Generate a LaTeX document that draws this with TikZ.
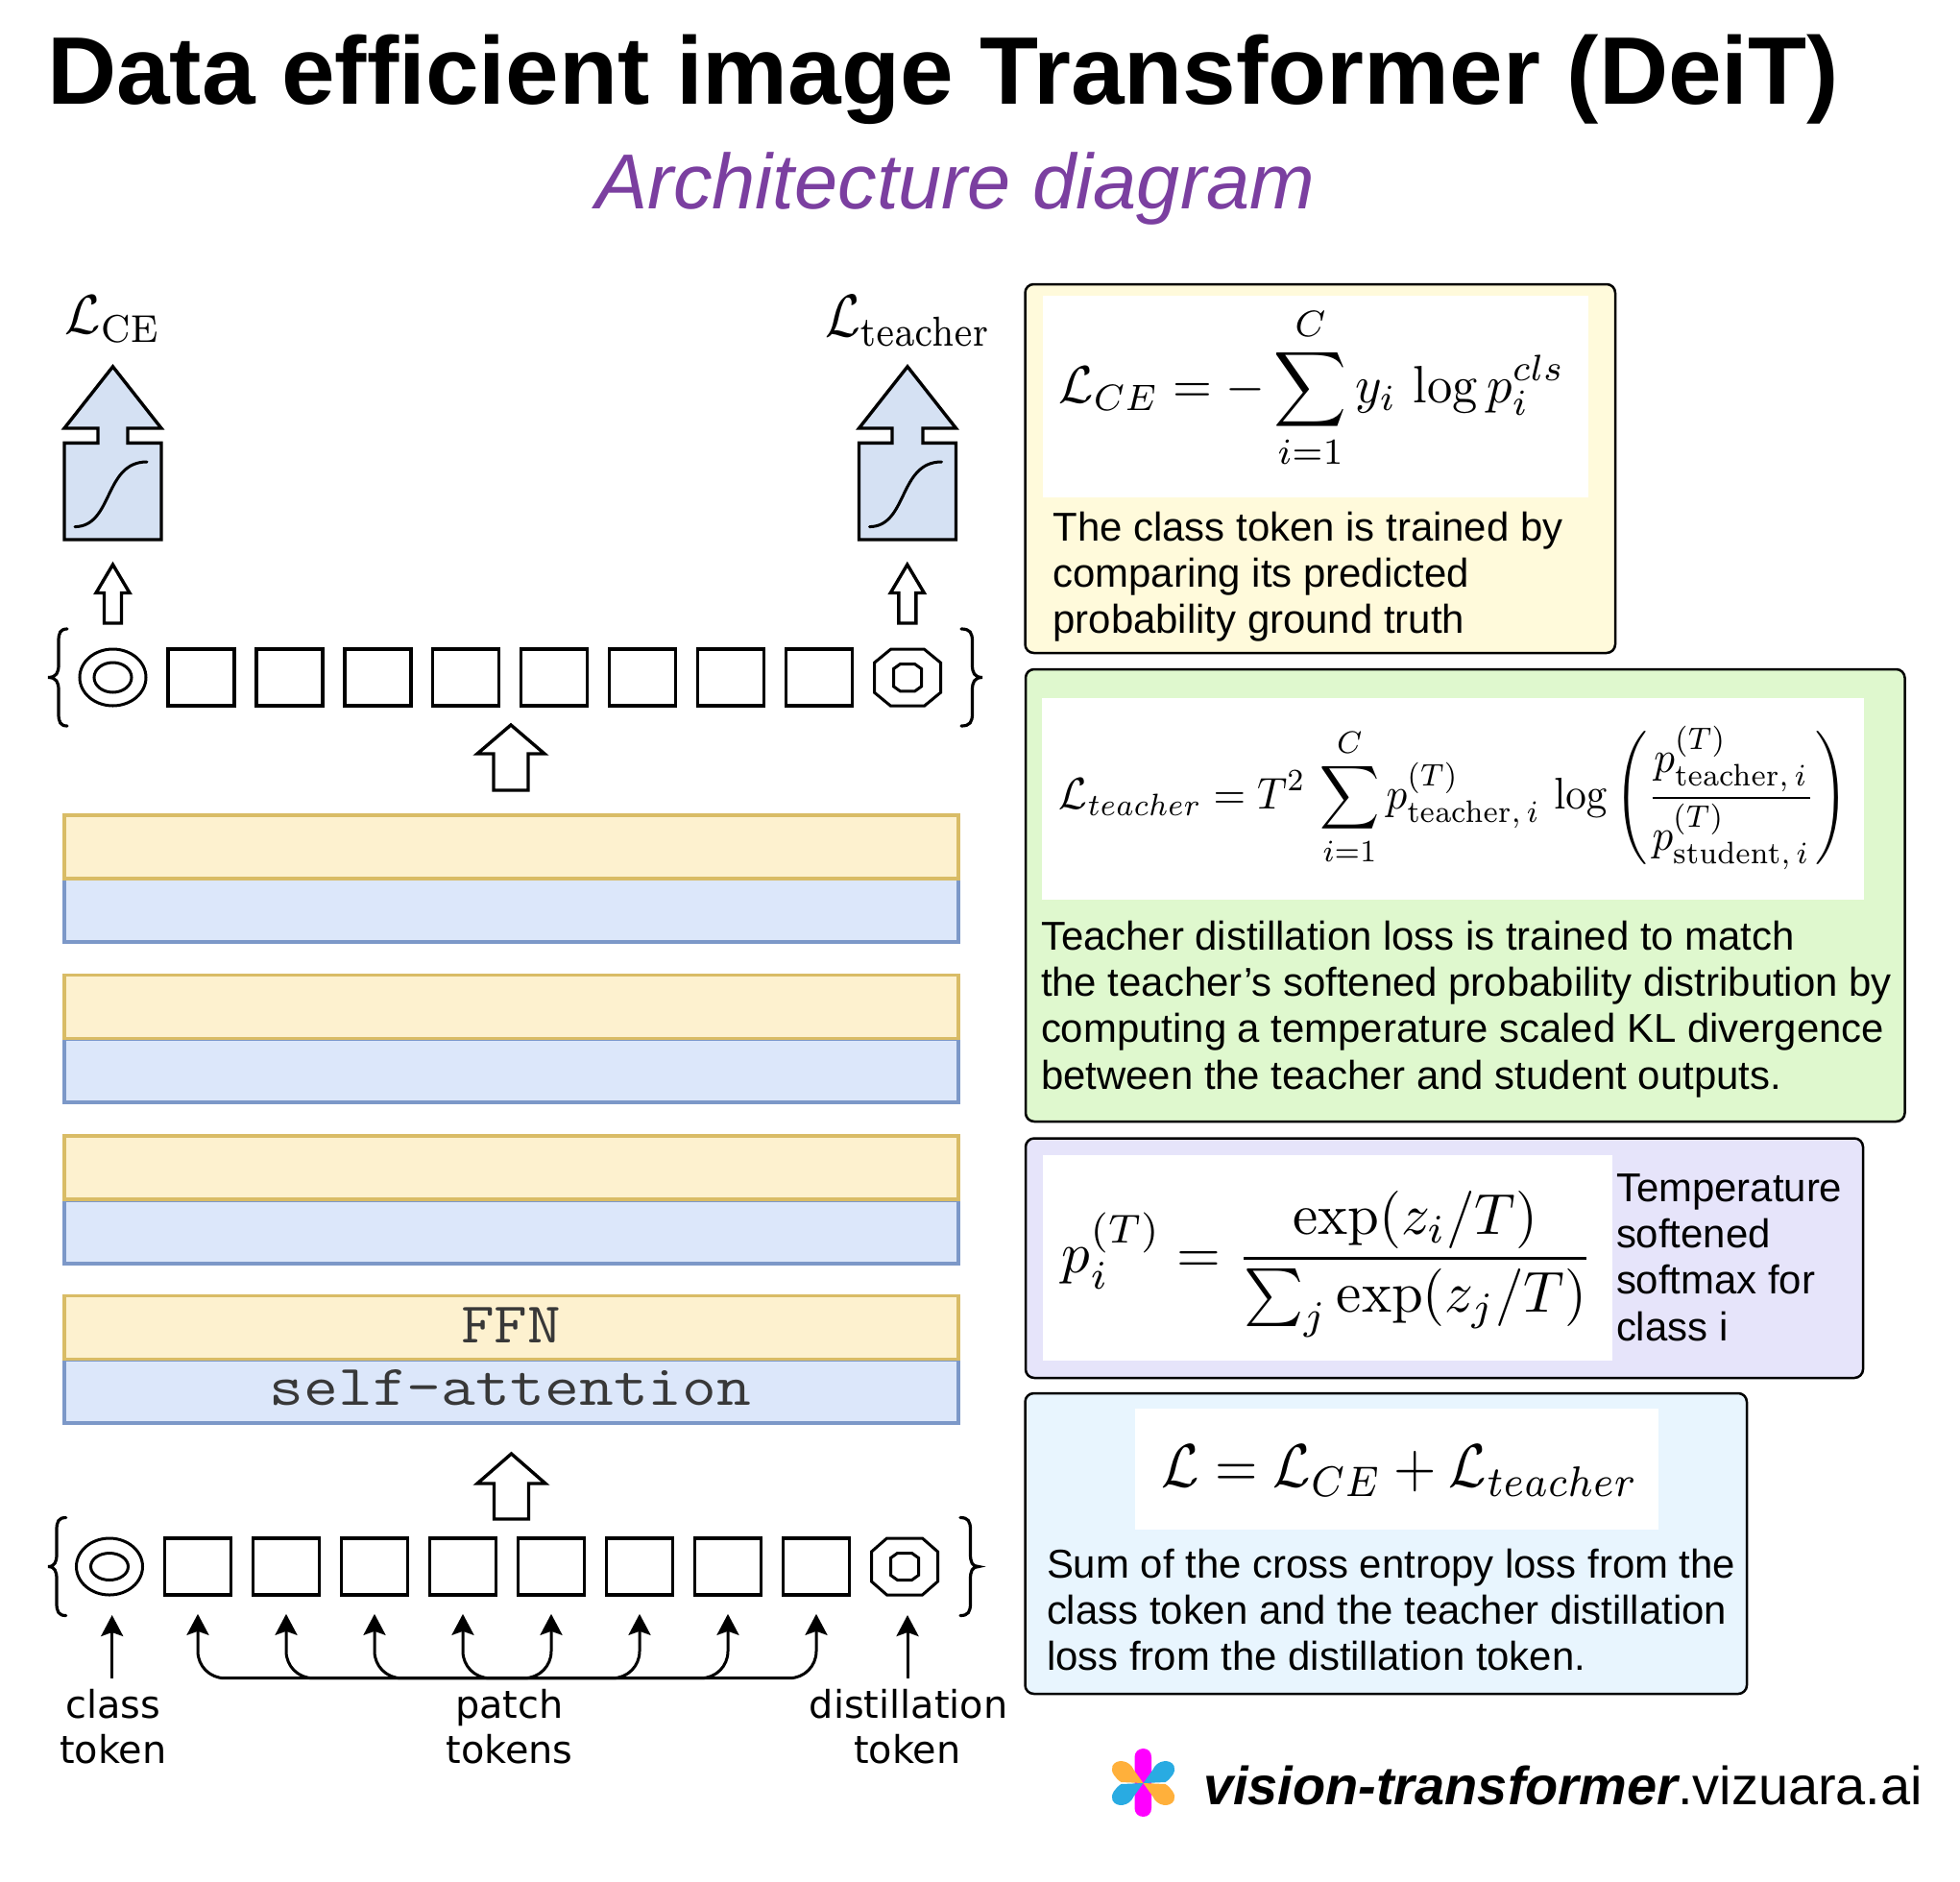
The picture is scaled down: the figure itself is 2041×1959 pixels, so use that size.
\documentclass[tikz,border=0pt]{standalone}
\usepackage{amsmath}
\usepackage{graphicx}
\usepackage[no-math]{fontspec}
\usetikzlibrary{arrows.meta,shapes.geometric}
\newfontfamily\arialf{Liberation Sans}
\newfontfamily\djf{DejaVu Sans}
\newcommand{\fsz}[2]{\fontsize{#1}{#2}\selectfont}
\definecolor{titlepurple}{HTML}{7B3FA0}
\definecolor{panelyellow}{HTML}{FFFADB}
\definecolor{panelgreen}{HTML}{DFF8CE}
\definecolor{panelpurple}{HTML}{E6E4FA}
\definecolor{panelblue}{HTML}{E8F5FE}
\definecolor{headblue}{HTML}{D5E1F3}
\definecolor{layery}{HTML}{FDF1CF}
\definecolor{layeryd}{HTML}{D9BC66}
\definecolor{layerb}{HTML}{DCE7FA}
\definecolor{layerbd}{HTML}{7C98C8}
\definecolor{logoorange}{HTML}{FFB03B}
\definecolor{logoblue}{HTML}{29ABE2}
\definecolor{logomagenta}{HTML}{FF00FF}
\tikzset{
  plain/.style={inner sep=0pt,outer sep=0pt},
  panel/.style={draw=black,line width=2.5pt,rounded corners=9pt},
  whitebox/.style={fill=white,draw=none},
  tokline/.style={draw=black,line width=3.6pt,line join=miter},
  tokbox/.style={tokline,rectangle,inner sep=0pt,outer sep=0pt,minimum width=69pt,minimum height=59pt},
  tokell/.style={tokline,line width=3pt,ellipse,inner sep=0pt,outer sep=0pt},
  blockarrow/.style={draw=black,line width=3.4pt,line join=miter,fill=white},
  headarrow/.style={blockarrow,fill=headblue},
  layeryel/.style={rectangle,draw=layeryd,fill=layery,line width=3.5pt,minimum width=931pt,minimum height=66pt,inner sep=0pt},
  layerblue/.style={rectangle,draw=layerbd,fill=layerb,line width=3.5pt,minimum width=931pt,minimum height=66pt,inner sep=0pt},
  bodytext/.style={plain,anchor=north west,align=left,text=black,font=\arialf\fsz{41.9}{48.3}},
  toktext/.style={plain,anchor=base,font=\djf\fsz{39.8}{47}},
  thinarrow/.style={draw=black,line width=3pt,-{Stealth[length=22pt,width=23pt,inset=4pt]}},
  patcharrow/.style={thinarrow,rounded corners=28pt,shorten >=20pt},
  bracepath/.style={draw=black,line width=3.2pt,line cap=round}
}
% block arrow: x, apex y, head base y, head half width, stem half width, bottom y
\newcommand{\blockup}[6]{\draw[blockarrow] (#1,#2) -- ({#1+#4},#3) -- ({#1+#5},#3) -- ({#1+#5},#6) -- ({#1-#5},#6) -- ({#1-#5},#3) -- ({#1-#4},#3) -- cycle;}
% classifier head arrow with sigmoid
\newcommand{\classhead}[2]{%
  \draw[headarrow] (#1,381.8) -- ({#1+50.5},446) -- ({#1+#2},446) -- ({#1+#2},461.4) -- ({#1+50.5},461.4) -- ({#1+50.5},562) -- ({#1-50.5},562) -- ({#1-50.5},461.4) -- ({#1-#2},461.4) -- ({#1-#2},446) -- ({#1-50.5},446) -- cycle;
  \draw[draw=black,line width=3pt,line cap=round] ({#1-39.5},548.6) .. controls ({#1+0.5},548) and ({#1-9.5},481) .. ({#1+35.5},481);}
% octagon: cx,cy,halfw,halfh,insetx,insety
\newcommand{\octo}[6]{\draw[tokline,line width=3pt] ({#1-#3+#5},{#2-#4}) -- ({#1+#3-#5},{#2-#4}) -- ({#1+#3},{#2-#4+#6}) -- ({#1+#3},{#2+#4-#6}) -- ({#1+#3-#5},{#2+#4}) -- ({#1-#3+#5},{#2+#4}) -- ({#1-#3},{#2+#4-#6}) -- ({#1-#3},{#2-#4+#6}) -- cycle;}
% brace: endx, vertx, tipx, cy, halfh
\newcommand{\brc}[5]{\draw[bracepath] (#1,{#4-#5}) .. controls ({#2+(#1-#2)*0.2},{#4-#5}) and (#2,{#4-#5+4}) .. (#2,{#4-#5+13}) -- (#2,{#4-13}) .. controls (#2,{#4-5}) and ({#2+(#3-#2)*0.2},#4) .. (#3,#4) .. controls ({#2+(#3-#2)*0.2},#4) and (#2,{#4+5}) .. (#2,{#4+13}) -- (#2,{#4+#5-13}) .. controls (#2,{#4+#5-4}) and ({#2+(#1-#2)*0.2},{#4+#5}) .. (#1,{#4+#5});}
\begin{document}
\begin{tikzpicture}[x=1pt,y=-1pt]
\useasboundingbox (0,0) rectangle (2041,1959);
\fill[white] (0,0) rectangle (2041,1959);

% Titles
\node[plain,anchor=base west] (title) at (49,108) {\resizebox{1866pt}{!}{\arialf\bfseries\fsz{100}{110}Data efficient image Transformer (DeiT)}};
\node[plain,anchor=base west,text=titlepurple] (subtitle) at (620,217.5) {\resizebox{749pt}{!}{\arialf\itshape\fsz{72}{80}Architecture diagram}};

% Layer stack
\node[layerblue] (b1) at (532.5,948.2) {};
\node[layeryel] (y1) at (532.5,882) {};
\node[layerblue] (b2) at (532.5,1114.8) {};
\node[layeryel] (y2) at (532.5,1048.4) {};
\node[layerblue] (b3) at (532.5,1282.8) {};
\node[layeryel] (y3) at (532.5,1215.8) {};
\node[layerblue] (b4) at (532.5,1448.8) {};
\node[layeryel] (y4) at (532.5,1382.5) {};
\node[plain,anchor=base,text=black!78] (ffn) at (532,1398) {\scalebox{1.12}[1]{\ttfamily\fsz{60}{60}FFN}};
\node[plain,anchor=base,text=black!78] (sa) at (531.5,1463) {\scalebox{1.16}[1]{\ttfamily\fsz{60}{60}self-attention}};

% Top token row
\node[tokell,minimum width=69pt,minimum height=59pt] (ct) at (117.5,705.5) {};
\node[tokell,minimum width=39pt,minimum height=31pt] (cti) at (117.5,705.5) {};
\foreach \i/\cx in {1/209.6,2/301.3,3/393.3,4/485,5/577,6/669,7/761,8/853}{
  \node[tokbox] (t\i) at (\cx,705.7) {};
}
\octo{945}{705.7}{34.5}{29.5}{17}{14}
\octo{945}{705.7}{14.5}{14.2}{7}{5}
\brc{70}{61}{50}{705.5}{50.5}
\brc{1001}{1012.5}{1023}{705.5}{50.5}

% Bottom token row
\node[tokell,minimum width=69pt,minimum height=59pt] (cb) at (114,1631.5) {};
\node[tokell,minimum width=39pt,minimum height=28pt] (cbi) at (114,1631.5) {};
\foreach \i/\cx in {1/206,2/298,3/390,4/482,5/574,6/666,7/758,8/850}{
  \node[tokbox] (p\i) at (\cx,1631.3) {};
}
\octo{942}{1631.5}{34.5}{29.5}{16}{14}
\octo{942}{1631.5}{14.5}{14}{7}{5}
\brc{68.7}{59}{50}{1631.5}{51}
\brc{1000}{1010.5}{1019}{1631.5}{51}

% Block arrows
\blockup{532}{755}{785}{35}{18}{823}
\blockup{532.5}{1514}{1545}{35.5}{18}{1582}
\blockup{117.5}{588}{617.5}{17.5}{9}{649}
\blockup{944.8}{588}{617.5}{17.5}{9}{649}

% Classifier heads
\classhead{117.5}{15.5}
\classhead{945}{16}
\node[plain] (lce) at (117.5,332.5) {\resizebox*{100pt}{48pt}{$\mathcal{L}_{\mathrm{CE}}$}};
\node[plain] (lte) at (945.5,334) {\resizebox*{173pt}{52pt}{$\mathcal{L}_{\mathrm{teacher}}$}};

% Input arrows
\coordinate (clsfoot) at (116.7,1747.7);
\coordinate (clstip) at (116.7,1682);
\coordinate (disfoot) at (945,1747.7);
\coordinate (distip) at (945,1682);
\coordinate (pm) at (531.5,1747.7);
\draw[thinarrow] (clsfoot) -- (clstip);
\draw[thinarrow] (disfoot) -- (distip);
\foreach \i in {1,...,8}{
  \draw[patcharrow] (pm) -| (p\i.south);
}
\node[toktext] (ctk1) at (118,1789) {class};
\node[toktext] (ctk2) at (118,1836) {token};
\node[toktext] (ptk1) at (530.5,1789) {patch};
\node[toktext] (ptk2) at (530.5,1836) {tokens};
\node[toktext] (dtk1) at (946,1789) {distillation};
\node[toktext] (dtk2) at (945,1836) {token};

% Yellow panel
\draw[panel,fill=panelyellow] (1067.5,296) rectangle (1682,680);
\fill[whitebox] (1085.7,308) rectangle (1654,517.7);
\node[plain] (fy) at (1366,404) {\resizebox*{527pt}{170pt}{$\displaystyle \mathcal{L}_{CE} = -\sum_{i=1}^{C} y_i\,\log p_i^{cls}$}};
\node[bodytext] (ty) at (1096.5,533) {The class token is trained by\\comparing its predicted\\probability ground truth};

% Green panel
\draw[panel,fill=panelgreen] (1068,697) rectangle (1983.5,1168);
\fill[whitebox] (1085,727) rectangle (1941,937);
\node[plain] (fg) at (1513.5,831) {\resizebox*{821pt}{150pt}{$\displaystyle \mathcal{L}_{teacher} = T^{2}\,\sum_{i=1}^{C} p^{(T)}_{\mathrm{teacher},\,i}\,\log\left(\frac{p^{(T)}_{\mathrm{teacher},\,i}}{p^{(T)}_{\mathrm{student},\,i}}\right)$}};
\node[bodytext] (tg) at (1084,959) {Teacher distillation loss is trained to match\\the teacher’s softened probability distribution by\\computing a temperature scaled KL divergence\\between the teacher and student outputs.};

% Purple panel
\draw[panel,fill=panelpurple] (1068,1185.5) rectangle (1940,1435);
\fill[whitebox] (1085.5,1202.7) rectangle (1678.6,1416.7);
\node[plain] (fp) at (1382.5,1316.5) {\resizebox*{553pt}{153pt}{$\displaystyle p_i^{(T)} = \frac{\exp(z_i/T)}{\sum_j \exp(z_j/T)}$}};
\node[bodytext] (tp) at (1683,1222.5) {Temperature\\softened\\softmax for\\class i};

% Blue panel
\draw[panel,fill=panelblue] (1067.5,1451) rectangle (1819,1764);
\fill[whitebox] (1182,1467) rectangle (1727,1592.7);
\node[plain] (fb) at (1458,1531.5) {\resizebox*{496pt}{53pt}{$\displaystyle \mathcal{L} = \mathcal{L}_{CE} + \mathcal{L}_{teacher}$}};
\node[bodytext] (tb) at (1090,1613) {Sum of the cross entropy loss from the\\class token and the teacher distillation\\loss from the distillation token.};

% Logo
\fill[logomagenta] (1190.5,1821) .. controls (1196,1821) and (1199,1825) .. (1199,1830) -- (1199,1883) .. controls (1199,1888) and (1196,1892) .. (1190.5,1892) .. controls (1185,1892) and (1181.5,1888) .. (1181.5,1883) -- (1181.5,1830) .. controls (1181.5,1825) and (1185,1821) .. (1190.5,1821) -- cycle;
\begin{scope}[shift={(1190.5,1857)}]
  \fill[logoorange] (0,0) -- (-10,-14) .. controls (-14,-24) and (-28,-26) .. (-32,-18) .. controls (-35,-12) and (-28,-4) .. (-23,-1) -- cycle;
  \fill[logoblue] (0,0) -- (10,-14) .. controls (14,-24) and (28,-26) .. (32,-18) .. controls (35,-12) and (28,-4) .. (23,-1) -- cycle;
  \fill[logoblue] (0,0) -- (-10,14) .. controls (-14,24) and (-28,26) .. (-32,18) .. controls (-35,12) and (-28,4) .. (-23,1) -- cycle;
  \fill[logoorange] (0,0) -- (10,14) .. controls (14,24) and (28,26) .. (32,18) .. controls (35,12) and (28,4) .. (23,1) -- cycle;
\end{scope}
\node[plain,anchor=base west] (logotext) at (1253,1879) {\resizebox{749pt}{!}{\arialf\fsz{56}{60}{\bfseries\itshape vision-transformer}.vizuara.ai}};
\end{tikzpicture}
\end{document}
